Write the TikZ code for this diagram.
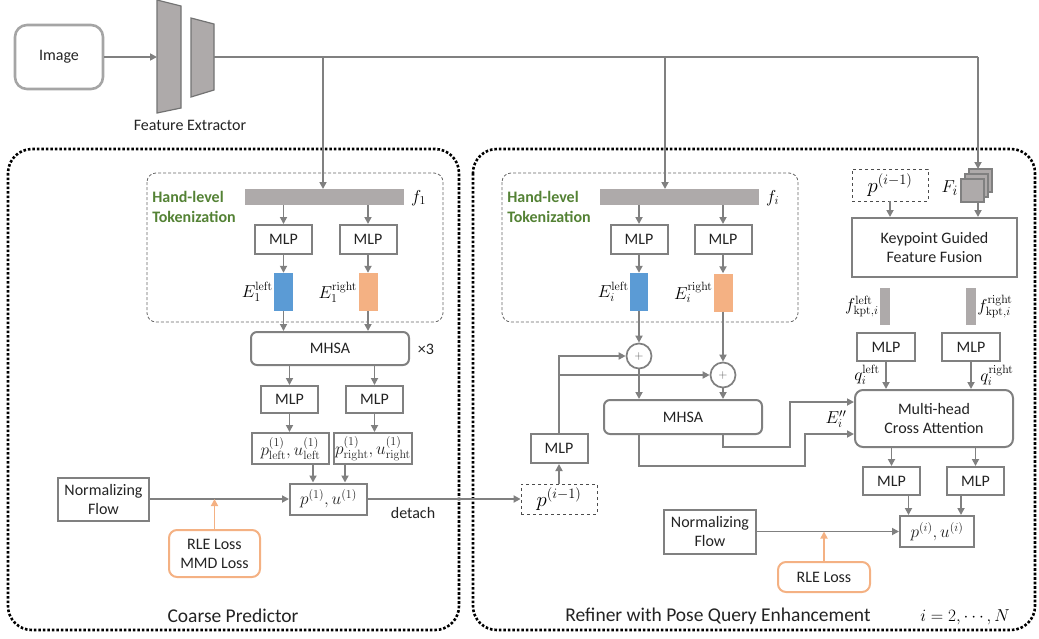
\documentclass[tikz,border=0pt]{standalone}
\usepackage[no-math]{fontspec}
\setmainfont{Carlito}
\usetikzlibrary{arrows.meta}
\definecolor{lg}{RGB}{128,128,128}
\definecolor{framegray}{RGB}{165,165,165}
\definecolor{barfill}{RGB}{174,170,170}
\definecolor{tokgreen}{RGB}{84,130,53}
\definecolor{lblue}{RGB}{91,155,213}
\definecolor{lorange}{RGB}{244,177,131}
\definecolor{txt}{RGB}{35,35,35}
\newcommand\txtfont{\fontsize{16}{19}\selectfont}
\newcommand\mathfnt{\fontsize{17.28}{20}\selectfont}
\newcommand\bigmathfnt{\fontsize{20.74}{24}\selectfont}
\begin{document}
\begin{tikzpicture}[x=1pt,y=-1pt,
  >={Triangle[length=7pt,width=7pt]},
  line/.style={draw=lg,line width=1.7pt},
  arr/.style={line,->},
  oarr/.style={draw=lorange,line width=1.7pt,->},
  box/.style={draw=lg,line width=2pt,inner sep=0pt,align=center,font=\txtfont,text=txt},
  rbox/.style={box,rounded corners=6pt},
  dbox/.style={draw=black!70,line width=0.8pt,dashed,inner sep=0pt,font=\bigmathfnt},
  lossbox/.style={draw=lorange,line width=2pt,rounded corners=8pt,inner sep=0pt,align=center,font=\txtfont,text=txt},
  bar/.style={fill=barfill,draw=none,inner sep=0pt},
  token/.style={draw=none,inner sep=0pt,minimum width=19pt,minimum height=38pt},
  lbl/.style={font=\txtfont,text=txt,inner sep=1pt},
  biglbl/.style={font=\fontsize{19.5}{22}\selectfont,text=txt,inner sep=1pt},
  mlbl/.style={font=\mathfnt,text=black,inner sep=1pt},
  green/.style={font=\fontsize{16}{20}\selectfont\bfseries,text=tokgreen,align=left,inner sep=0pt},
  outer/.style={draw=black,line width=2.6pt,dash pattern=on 2.6pt off 1.9pt,rounded corners=24pt},
  tokframe/.style={draw=black!60,line width=0.8pt,dash pattern=on 3pt off 2pt,rounded corners=9pt},
  plus/.style={circle,draw=lg,line width=1.7pt,minimum size=25pt,inner sep=0pt,font=\fontsize{12}{12}\selectfont,text=lg!70!black},
  sq/.style={fill=barfill,draw=lg,line width=1.2pt}
]
\useasboundingbox (0,0) rectangle (1039,638);

% ---------------- input and backbone ----------------
\node[box,draw=framegray,line width=2.6pt,rounded corners=12pt,minimum width=88pt,minimum height=64pt] (img) at (59,57) {Image};
\draw[sq,draw=lg!90!black] (157,0) -- (181,6) -- (181,108) -- (157,113) -- cycle;
\draw[sq,draw=lg!90!black] (191,18) -- (214,24) -- (214,90) -- (191,97) -- cycle;
\coordinate (fein) at (157,57);
\coordinate (feout) at (214,57);
\node[lbl] (felbl) at (190,125) {Feature Extractor};
\draw[arr] (img.east) -- (fein);

% ---------------- outer frames ----------------
\draw[outer] (8,149) rectangle (459,630);
\draw[outer] (473,149) rectangle (1035,630);
\node[biglbl] (cplbl) at (233,616) {Coarse Predictor};
\node[biglbl] (rflbl) at (718,616) {Refiner with Pose Query Enhancement};
\node[mlbl,font=\fontsize{17}{19}\selectfont] (ilbl) at (965,617) {$i=2,\cdots,N$};

% ---------------- coarse predictor ----------------
\draw[tokframe] (147,173) rectangle (443,322);
\node[green] (tok1) at (194,207) {Hand-level\\Tokenization};
\node[bar,minimum width=159pt,minimum height=16pt] (f1) at (324.5,197) {};
\node[mlbl,anchor=west] (f1lbl) at (410,198) {$f_1$};
\node[box,minimum width=57pt,minimum height=29pt] (a1) at (283.5,239.5) {MLP};
\node[box,minimum width=57pt,minimum height=29pt] (a2) at (368,239.5) {MLP};
\node[token,fill=lblue] (b1) at (283.5,292) {};
\node[token,fill=lorange] (o1) at (368,292) {};
\node[mlbl,anchor=east] (e1l) at (b1.west) {$E_1^{\mathrm{left}}$};
\node[mlbl,anchor=east] (e1r) at (o1.west) {$E_1^{\mathrm{right}}$};
\node[rbox,minimum width=158pt,minimum height=33pt] (m1) at (330,348.5) {MHSA};
\node[lbl] (x3) at (426,349) {×3};
\node[box,minimum width=57pt,minimum height=27pt] (c1) at (289.5,399.5) {MLP};
\node[box,minimum width=57pt,minimum height=27pt] (c2) at (374.5,399.5) {MLP};
\node[box,font=\mathfnt,minimum width=77pt,minimum height=31pt] (pl) at (290.5,448.5) {$p^{(1)}_{\mathrm{left}},u^{(1)}_{\mathrm{left}}$};
\node[box,font=\mathfnt,minimum width=78pt,minimum height=31pt] (pr) at (373,448.5) {$p^{(1)}_{\mathrm{right}},u^{(1)}_{\mathrm{right}}$};
\node[box,font=\mathfnt,minimum width=77pt,minimum height=31pt] (p1) at (328.5,499) {$p^{(1)},u^{(1)}$};
\node[box,minimum width=91pt,minimum height=43pt] (nf1) at (103.5,499) {Normalizing\\Flow};
\node[lossbox,minimum width=91pt,minimum height=47pt] (loss1) at (214.5,553.5) {RLE Loss\\MMD Loss};
\node[lbl] (detach) at (413,513) {detach};

\draw[arr] (f1.south -| a1) -- (a1.north);
\draw[arr] (f1.south -| a2) -- (a2.north);
\draw[arr] (a1.south) -- (b1.north);
\draw[arr] (a2.south) -- (o1.north);
\draw[arr] (b1.south) -- (b1.south |- m1.north);
\draw[arr] (o1.south) -- (o1.south |- m1.north);
\draw[arr] (m1.south -| c1) -- (c1.north);
\draw[arr] (m1.south -| c2) -- (c2.north);
\draw[arr] (c1.south) -- (c1.south |- pl.north);
\draw[arr] (c2.south) -- (c2.south |- pr.north);
\draw[arr] ([xshift=22.5pt]pl.south) -- ([xshift=22.5pt]pl.south |- p1.north);
\draw[arr] ([xshift=-28pt]pr.south) -- ([xshift=-28pt]pr.south |- p1.north);
\draw[arr] (nf1.east) -- (p1.west);
\coordinate (j1) at (loss1.north |- p1.west);
\draw[oarr] (loss1.north) -- (j1);

% ---------------- refiner ----------------
\draw[tokframe] (502,173) rectangle (798,322);
\node[green] (tok2) at (549,207) {Hand-level\\Tokenization};
\node[bar,minimum width=159pt,minimum height=16pt] (fi) at (679.5,197) {};
\node[mlbl,anchor=west] (filbl) at (765,198) {$f_i$};
\node[box,minimum width=57pt,minimum height=29pt] (d1) at (639,239.5) {MLP};
\node[box,minimum width=57pt,minimum height=29pt] (d2) at (723,239.5) {MLP};
\node[token,fill=lblue,minimum width=18pt] (b2) at (639,292) {};
\node[token,fill=lorange] (o2) at (723.5,292.5) {};
\node[mlbl,anchor=east] (eil) at (b2.west) {$E_i^{\mathrm{left}}$};
\node[mlbl,anchor=east] (eir) at (o2.west) {$E_i^{\mathrm{right}}$};
\node[plus] (s1) at (639,356) {$+$};
\node[plus] (s2) at (723,375) {$+$};
\node[rbox,minimum width=158pt,minimum height=34pt] (m2) at (683,417) {MHSA};
\node[box,minimum width=57pt,minimum height=29pt] (e) at (559,448.5) {MLP};
\node[dbox,minimum width=76pt,minimum height=30pt] (pim1) at (559,499) {$p^{(i-1)}$};

\draw[arr] (p1.east) -- (pim1.west);
\draw[arr] (fi.south -| d1) -- (d1.north);
\draw[arr] (fi.south -| d2) -- (d2.north);
\draw[arr] (d1.south) -- (b2.north);
\draw[arr] (d2.south) -- (d2.south |- o2.north);
\draw[arr] (b2.south) -- (s1.north);
\draw[arr] (o2.south -| s2) -- (s2.north);
\draw[arr] (s1.south) -- (s1.south |- m2.north);
\draw[arr] (s2.south) -- (s2.south |- m2.north);
\draw[arr] (pim1.north) -- (e.south);
\coordinate (eup) at (e.north |- s1.west);
\coordinate (ebr) at (e.north |- s2.west);
\draw[arr] (e.north) -- (eup) -- (s1.west);
\draw[arr] (ebr) -- (s2.west);

% keypoint branch
\node[dbox,minimum width=76pt,minimum height=32pt] (pim2) at (890,185) {$p^{(i-1)}$};
\draw[sq] (969,169) rectangle (992,192);
\draw[sq] (965,174) rectangle (988,197);
\node[sq,draw,inner sep=0pt,minimum size=23pt] (Fi) at (972.5,190.5) {};
\coordinate (Fitop) at (978,169);
\node[mlbl,font=\fontsize{19}{22}\selectfont,anchor=east] (Filbl) at (959,188) {$F_i$};
\node[box,minimum width=165pt,minimum height=59pt] (kgff) at (934.5,247.5) {Keypoint Guided\\Feature Fusion};
\draw[arr] (pim2.south) -- (pim2.south |- kgff.north);
\draw[arr] (Fi.south -| Fitop) -- (Fitop |- kgff.north);
\node[bar,minimum width=10pt,minimum height=37pt] (kl) at (885,306.5) {};
\node[bar,minimum width=10pt,minimum height=37pt] (kr) at (971,306.5) {};
\node[mlbl,anchor=east] (kllbl) at (kl.west) {$f^{\mathrm{left}}_{\mathrm{kpt},i}$};
\node[mlbl,anchor=west] (krlbl) at (kr.east) {$f^{\mathrm{right}}_{\mathrm{kpt},i}$};
\node[box,minimum width=58pt,minimum height=28pt] (g1) at (886,347) {MLP};
\node[box,minimum width=58pt,minimum height=28pt] (g2) at (971,347) {MLP};
\node[rbox,rounded corners=8pt,minimum width=158pt,minimum height=57pt] (X) at (934,418.5) {Multi-head\\Cross Attention};
\draw[arr] (g1.south) -- (g1.south |- X.north);
\draw[arr] (g2.south) -- (g2.south |- X.north);
\node[mlbl] (qll) at (867,375) {$q_i^{\mathrm{left}}$};
\node[mlbl] (qrl) at (997,375) {$q_i^{\mathrm{right}}$};

% MHSA outputs into cross attention
\coordinate (xa) at (X.west |- 0,402);
\coordinate (xb) at (X.west |- 0,434);
\draw[arr] (m2.south -| s2) -- ++(0,12) -| (790,402) -- (xa);
\draw[arr] (m2.south -| s1) -- ++(0,31) -| (805,434) -- (xb);
\node[mlbl] (eii) at (836,419) {$E_i''$};

\node[box,minimum width=57pt,minimum height=28pt] (h1) at (891.5,481) {MLP};
\node[box,minimum width=57pt,minimum height=28pt] (h2) at (975.5,481) {MLP};
\draw[arr] (X.south -| h1) -- (h1.north);
\draw[arr] (X.south -| h2) -- (h2.north);
\node[box,font=\mathfnt,minimum width=74pt,minimum height=31pt] (pi) at (937,531.5) {$p^{(i)},u^{(i)}$};
\draw[arr] ([xshift=17pt]h1.south) -- ([xshift=17pt]h1.south |- pi.north);
\draw[arr] ([xshift=-14.5pt]h2.south) -- ([xshift=-14.5pt]h2.south |- pi.north);
\node[box,minimum width=92pt,minimum height=44pt] (nf2) at (710,531.5) {Normalizing\\Flow};
\node[lossbox,minimum width=92pt,minimum height=30pt] (loss2) at (824,577) {RLE Loss};
\draw[arr] (nf2.east) -- (pi.west);
\coordinate (j2) at (loss2.north |- pi.west);
\draw[oarr] (loss2.north) -- (j2);

% backbone feature routing
\draw[line] (feout) -- (978,57);
\draw[arr] (978,57) -- (Fitop);
\draw[arr] (323,57) -- (323,189);
\draw[arr] (665,57) -- (665,189);
\end{tikzpicture}
\end{document}
